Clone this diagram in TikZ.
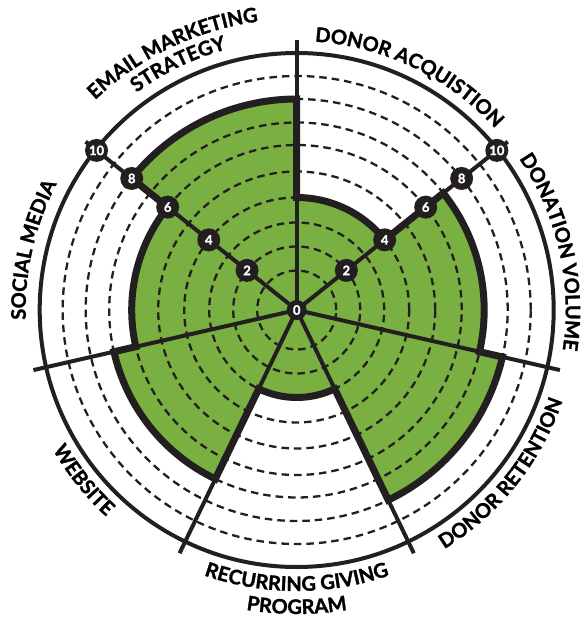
\documentclass[tikz,border=0pt]{standalone}
\usepackage{fontspec}
\setsansfont{Lato}
\newfontfamily\heavyfont{Lato}[UprightFeatures={FakeBold=1.4}, BoldFeatures={FakeBold=1.4}]
\usepackage{tikz}
\usetikzlibrary{decorations.text}
\definecolor{ink}{HTML}{231F20}
\definecolor{leaf}{HTML}{7AB041}
\newcommand{\labfont}{\heavyfont\bfseries\fontsize{20}{24}\selectfont}
\tikzset{
  score/.style={draw=ink, fill=leaf, line width=7pt},
  ring/.style={draw=ink, line width=2.3pt, dash pattern=on 7.5pt off 5pt},
  rim/.style={draw=ink, line width=4pt},
  spoke/.style={draw=ink, line width=4pt},
  badge/.style={circle, fill=ink, text=white, inner sep=0pt, minimum size=23pt,
    font=\heavyfont\bfseries\fontsize{13}{13}\selectfont},
  curved/.style={decorate, decoration={text along path, text align=center,
    text={|\labfont|#1}}}
}

\begin{document}
\begin{tikzpicture}[x=1pt, y=1pt]
  \useasboundingbox (-296.7,-309) rectangle (286.3,310);

  \coordinate (O) at (0,0);
  \coordinate (sA) at (90:270);
  \coordinate (sB) at (38.571:270);
  \coordinate (sC) at (-12.857:270);
  \coordinate (sD) at (-64.286:270);
  \coordinate (sE) at (-115.714:270);
  \coordinate (sF) at (-167.143:270);
  \coordinate (sG) at (141.429:270);

  % scores
  \draw[score] (90:211) -- (90:112.5)
    arc[start angle=90, end angle=38.571, radius=112.5] -- (38.571:187.5)
    arc[start angle=38.571, end angle=-12.857, radius=187.5] -- (-12.857:211)
    arc[start angle=-12.857, end angle=-64.286, radius=211] -- (-64.286:87.5)
    arc[start angle=-64.286, end angle=-115.714, radius=87.5] -- (-115.714:187.5)
    arc[start angle=-115.714, end angle=-167.143, radius=187.5] -- (-167.143:165)
    arc[start angle=-167.143, end angle=-218.571, radius=165] -- (-218.571:211)
    arc[start angle=-218.571, end angle=-270, radius=211] -- cycle;

  % scale rings
  \draw[ring] (O) circle[radius=39.5];
  \draw[ring] (O) circle[radius=63.5];
  \draw[ring] (O) circle[radius=87.5];
  \draw[ring] (O) circle[radius=112.5];
  \draw[ring] (O) circle[radius=138.5];
  \draw[ring] (O) circle[radius=165];
  \draw[ring] (O) circle[radius=187.5];
  \draw[ring] (O) circle[radius=211];
  \draw[ring] (O) circle[radius=234];
  \draw[rim] (O) circle[radius=257];

  \draw[spoke] (O) -- (sA);
  \draw[spoke] (O) -- (sB);
  \draw[spoke] (O) -- (sC);
  \draw[spoke] (O) -- (sD);
  \draw[spoke] (O) -- (sE);
  \draw[spoke] (O) -- (sF);
  \draw[spoke] (O) -- (sG);

  \node[badge, minimum size=20pt] (n0) at (O) {0};
  \node[badge] (g2) at (141.429:63.5) {2};
  \node[badge] (g4) at (141.429:112.5) {4};
  \node[badge] (g6) at (141.429:165) {6};
  \node[badge] (g8) at (141.429:211) {8};
  \node[badge] (g10) at (141.429:256) {10};
  \node[badge] (b2) at (38.571:63.5) {2};
  \node[badge] (b4) at (38.571:112.5) {4};
  \node[badge] (b6) at (38.571:165) {6};
  \node[badge] (b8) at (38.571:211) {8};
  \node[badge] (b10) at (38.571:256) {10};

  % labels
  \path[curved={DONOR ACQUISTION}] (104.29:269) arc[start angle=104.29, end angle=24.29, radius=269];
  \path[curved={DONATION VOLUME}] (52.86:269) arc[start angle=52.86, end angle=-27.14, radius=269];
  \path[curved={DONOR RETENTION}] (-78.57:281) arc[start angle=-78.57, end angle=1.43, radius=281];
  \path[curved={RECURRING GIVING}] (-130:281) arc[start angle=-130, end angle=-50, radius=281];
  \path[curved={PROGRAM}] (-130:304) arc[start angle=-130, end angle=-50, radius=304];
  \path[curved={WEBSITE}] (178.57:281) arc[start angle=178.57, end angle=258.57, radius=281];
  \path[curved={SOCIAL MEDIA}] (207.14:271) arc[start angle=207.14, end angle=127.14, radius=271];
  \path[curved={EMAIL MARKETING}] (155.71:291) arc[start angle=155.71, end angle=75.71, radius=291];
  \path[curved={STRATEGY}] (155.71:270) arc[start angle=155.71, end angle=75.71, radius=270];
\end{tikzpicture}
\end{document}
